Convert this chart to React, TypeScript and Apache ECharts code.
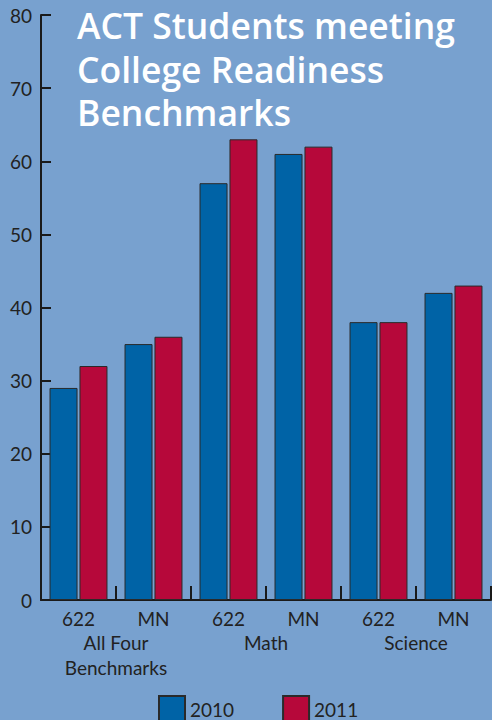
import React, { useEffect, useRef } from "react";
import * as echarts from "echarts";

const categories = ["622", "MN", "622", "MN", "622", "MN"];
const groups = ["All Four\nBenchmarks", "Math", "Science"];
const values2010 = [29, 35, 57, 61, 38, 42];
const values2011 = [32, 36, 63, 62, 38, 43];
const titleLines = ["ACT Students meeting", "College Readiness", "Benchmarks"];
const yTicks = { min: 0, max: 80, interval: 10 };

const BG = "#78a1cf";
const BLUE = "#0063a6";
const RED = "#b6083a";
const INK = "#222222";
const FONT = "Lato, 'Open Sans', sans-serif";
const TITLE_FONT = "'Open Sans', sans-serif";

export default function App() {
  const ref = useRef<HTMLDivElement>(null);
  useEffect(() => {
    if (!ref.current) return;
    const chart = echarts.init(ref.current, undefined, { renderer: "svg" });
    chart.setOption({
      animation: false,
      backgroundColor: BG,
      textStyle: { fontFamily: FONT },
      graphic: titleLines.map((line, i) => ({
        type: "text",
        left: 77,
        top: 4 + i * 43.5,
        style: {
          text: line,
          fill: "#ffffff",
          font: "600 35.5px " + TITLE_FONT,
          lineHeight: 42,
        },
      })),
      legend: {
        left: 153,
        top: 690,
        icon: "rect",
        itemWidth: 26,
        itemHeight: 26,
        itemGap: 48,
        textStyle: { fontSize: 19, lineHeight: 20, color: INK, fontFamily: FONT },
        data: ["2010", "2011"],
      },
      grid: { left: 41, right: 1, top: 15, bottom: 120, containLabel: false },
      xAxis: [
        {
          type: "category",
          data: categories,
          axisLine: { show: true, lineStyle: { color: "#1a1a1a", width: 2 } },
          axisTick: { show: true, inside: true, length: 14, lineStyle: { color: "#1a1a1a", width: 2 } },
          axisLabel: { fontSize: 19, color: INK, margin: 9, fontFamily: FONT },
        },
        {
          type: "category",
          data: groups,
          position: "bottom",
          offset: 22,
          axisLine: { show: false },
          axisTick: { show: false },
          axisLabel: { fontSize: 19, color: INK, margin: 8, lineHeight: 25, fontFamily: FONT },
        },
      ],
      yAxis: {
        type: "value",
        min: yTicks.min,
        max: yTicks.max,
        interval: yTicks.interval,
        axisLine: { show: true, lineStyle: { color: "#1a1a1a", width: 2 } },
        axisTick: { show: true, inside: true, length: 10, lineStyle: { color: "#1a1a1a", width: 2 } },
        axisLabel: { fontSize: 19, color: INK, margin: 9, fontFamily: FONT },
        splitLine: { show: false },
      },
      series: [
        {
          name: "2010",
          type: "bar",
          xAxisIndex: 0,
          data: values2010,
          barWidth: 28,
          barGap: "7%",
          itemStyle: { color: BLUE, borderColor: "#2a2a2a", borderWidth: 1 },
        },
        {
          name: "2011",
          type: "bar",
          xAxisIndex: 0,
          data: values2011,
          barWidth: 28,
          barGap: "7%",
          itemStyle: { color: RED, borderColor: "#2a2a2a", borderWidth: 1 },
        },
      ],
    });
    return () => chart.dispose();
  }, []);
  return (
    <div
      ref={ref}
      style={{ position: "absolute", left: 0, top: 0, width: 492, height: 720 }}
    />
  );
}
